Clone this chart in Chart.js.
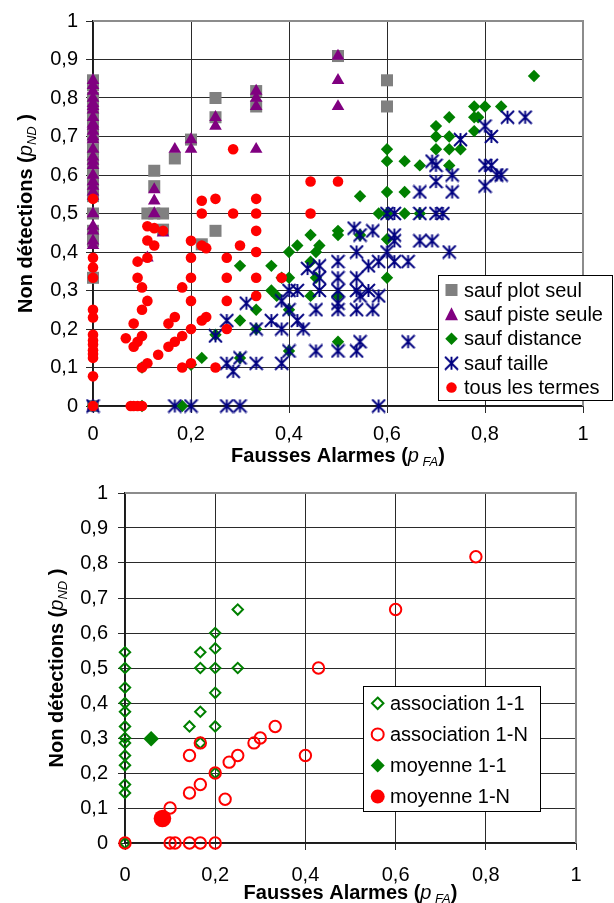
<!DOCTYPE html>
<html><head><meta charset="utf-8">
<script src="https://cdn.jsdelivr.net/npm/chart.js@4/dist/chart.umd.min.js"></script>
<style>
html,body{margin:0;padding:0;background:#fff;width:614px;height:903px;overflow:hidden}
#w1{position:absolute;left:0;top:0;width:614px;height:468px}
#w2{position:absolute;left:0;top:468px;width:614px;height:435px}
</style></head><body>
<div id="w1"><canvas id="c1"></canvas></div>
<div id="w2"><canvas id="c2"></canvas></div>
<script>
// ---------- tick labels ----------
const xTickLabels = ['0','0,2','0,4','0,6','0,8','1'];
const yTickLabels = ['0','0,1','0,2','0,3','0,4','0,5','0,6','0,7','0,8','0,9','1'];

// ---------- titles / legend labels ----------
const xTitleMain = 'Fausses Alarmes (', xTitleP = 'p', xTitleSub = ' FA', xTitleEnd = ')';
const yTitleMain = 'Non détections (', yTitleP = 'p', yTitleSub = 'ND', yTitleEnd = ' )';
const topLabels = ['sauf plot seul','sauf piste seule','sauf distance','sauf taille','tous les termes'];
const bottomLabels = ['association 1-1','association 1-N','moyenne 1-1','moyenne 1-N'];

// ---------- top chart series ----------
const saufPlotSeul = [[0,0],[0,0.333],[0,0.429],[0,0.455],[0,0.5],[0,0.545],[0,0.571],[0,0.6],[0,0.615],[0,0.636],[0,0.667],[0,0.7],[0,0.727],[0,0.75],[0,0.769],[0,0.8],[0,0.833],[0,0.846],
 [0.111,0.5],[0.143,0.5],[0.125,0.5],[0.125,0.571],[0.125,0.611],[0.143,0.458],[0.167,0.643],[0.2,0.692],[0.222,0.42],[0.25,0.455],[0.25,0.75],[0.25,0.8],[0.333,0.778],[0.333,0.818],[0.5,0.909],[0.6,0.846],[0.6,0.778]];
const saufPisteSeule = [[0,0],[0,0.417],[0,0.429],[0,0.455],[0,0.467],[0,0.5],[0,0.545],[0,0.556],[0,0.571],[0,0.583],[0,0.6],[0,0.625],[0,0.636],[0,0.647],[0,0.667],[0,0.692],[0,0.7],[0,0.714],[0,0.727],[0,0.733],[0,0.75],[0,0.769],[0,0.778],[0,0.786],[0,0.8],[0,0.818],[0,0.833],[0,0.846],
 [0.111,0.385],[0.125,0.5],[0.125,0.533],[0.125,0.562],[0.143,0.45],[0.167,0.667],[0.2,0.667],[0.2,0.692],[0.25,0.727],[0.25,0.75],[0.333,0.667],[0.333,0.778],[0.333,0.8],[0.333,0.818],[0.5,0.778],[0.5,0.846],[0.5,0.909]];
const saufDistance = [[0,0],[0.1,0],[0.182,0],[0.1,0.1],[0.2,0.107],[0.222,0.125],[0.3,0.125],[0.25,0.185],[0.3,0.222],[0.333,0.2],[0.333,0.25],[0.3,0.364],[0.364,0.364],[0.364,0.3],[0.375,0.286],[0.385,0.333],[0.4,0.333],[0.4,0.25],[0.4,0.143],[0.4,0.4],[0.417,0.417],[0.444,0.444],[0.444,0.375],[0.444,0.286],[0.455,0.4],[0.462,0.417],[0.455,0.333],[0.5,0.455],[0.5,0.444],[0.5,0.286],[0.5,0.167],[0.545,0.545],[0.545,0.444],[0.583,0.5],[0.6,0.5],[0.6,0.556],[0.6,0.433],[0.6,0.333],[0.6,0.667],[0.6,0.636],[0.636,0.636],[0.636,0.556],[0.636,0.5],[0.667,0.625],[0.667,0.5],[0.7,0.727],[0.7,0.7],[0.727,0.7],[0.7,0.667],[0.727,0.667],[0.75,0.667],[0.727,0.625],[0.727,0.75],[0.778,0.75],[0.786,0.75],[0.778,0.714],[0.778,0.778],[0.8,0.778],[0.833,0.778],[0.9,0.857]];
const saufTaille = [[0,0],[0.167,0],[0.2,0],[0.273,0],[0.3,0],[0.583,0],
 [0.273,0.111],[0.286,0.09],[0.3,0.125],[0.333,0.111],[0.385,0.111],[0.4,0.143],[0.455,0.143],[0.5,0.143],[0.538,0.143],[0.545,0.167],[0.643,0.167],
 [0.25,0.182],[0.273,0.222],[0.313,0.267],[0.333,0.2],[0.364,0.222],[0.385,0.2],[0.385,0.273],[0.4,0.25],[0.4,0.3],[0.417,0.222],[0.429,0.2],[0.417,0.3],[0.455,0.25],[0.462,0.3],[0.5,0.25],[0.5,0.267],[0.5,0.3],[0.538,0.25],[0.571,0.25],[0.538,0.3],[0.545,0.286],[0.562,0.3],[0.583,0.286],[0.5,0.333],[0.462,0.333],[0.538,0.333],[0.438,0.357],[0.462,0.364],[0.5,0.375],[0.538,0.4],[0.562,0.364],[0.583,0.375],[0.615,0.375],[0.643,0.375],[0.6,0.4],[0.533,0.462],[0.545,0.444],[0.571,0.455],[0.615,0.444],[0.615,0.429],[0.667,0.429],[0.692,0.429],[0.727,0.4],[0.6,0.5],[0.615,0.5],[0.667,0.5],[0.7,0.5],[0.714,0.5],[0.667,0.556],[0.733,0.556],[0.7,0.583],[0.733,0.6],[0.692,0.636],[0.7,0.625],[0.8,0.571],[0.8,0.625],[0.813,0.625],[0.824,0.6],[0.833,0.6],[0.75,0.692],[0.8,0.727],[0.813,0.7],[0.846,0.75],[0.882,0.75]];
const tousLesTermes = [[0,0.538],[0,0.385],[0,0.36],[0,0.333],[0,0.25],[0,0.23],[0,0.185],[0,0.17],[0,0.16],[0,0.145],[0,0.135],[0,0.125],[0,0.077],[0,0],
 [0.077,0],[0.083,0],[0.091,0],[0.1,0],
 [0.111,0.467],[0.125,0.462],[0.143,0.455],[0.111,0.43],[0.125,0.417],[0.111,0.385],[0.091,0.375],[0.091,0.333],[0.1,0.308],[0.111,0.273],[0.1,0.25],[0.083,0.214],[0.1,0.182],[0.091,0.167],[0.083,0.154],[0.067,0.176],[0.111,0.111],[0.1,0.1],
 [0.133,0.133],[0.154,0.154],[0.167,0.167],[0.182,0.182],[0.154,0.214],[0.167,0.231],[0.182,0.308],[0.182,0.1],
 [0.2,0.429],[0.2,0.385],[0.2,0.333],[0.2,0.273],[0.2,0.2],[0.2,0.111],
 [0.222,0.533],[0.25,0.538],[0.222,0.5],[0.222,0.417],[0.231,0.41],[0.222,0.222],[0.231,0.231],[0.25,0.1],
 [0.286,0.667],[0.286,0.5],[0.273,0.385],[0.273,0.333],[0.273,0.273],[0.273,0.2],[0.3,0.417],
 [0.333,0.538],[0.333,0.5],[0.333,0.455],[0.333,0.4],[0.333,0.333],[0.333,0.286],[0.385,0.333],
 [0.444,0.583],[0.5,0.583],[0.444,0.5]];

// ---------- bottom chart series ----------
const association11 = [[0,0],[0,0.143],[0,0.167],[0,0.222],[0,0.25],[0,0.286],[0,0.3],[0,0.333],[0,0.375],[0,0.4],[0,0.444],[0,0.5],[0,0.545],[0.143,0.333],[0.167,0.375],[0.167,0.286],[0.167,0.5],[0.167,0.545],[0.2,0.2],[0.2,0.333],[0.2,0.429],[0.2,0.5],[0.2,0.556],[0.2,0.6],[0.25,0.5],[0.25,0.667]];
const association1N = [[0,0],[0.1,0],[0.111,0],[0.143,0],[0.167,0],[0.2,0],[0.1,0.1],[0.143,0.143],[0.143,0.25],[0.167,0.167],[0.167,0.286],[0.2,0.2],[0.222,0.125],[0.231,0.231],[0.25,0.25],[0.286,0.286],[0.3,0.3],[0.333,0.333],[0.4,0.25],[0.429,0.5],[0.6,0.667],[0.778,0.818]];
const moyenne11 = [[0.058,0.298]];
const moyenne1N = [[0.083,0.07]];

// ---------- styling ----------
const FAM = '"Liberation Sans", Arial, Helvetica, sans-serif';
const GRAY='#808080', PURPLE='#800080', GREEN='#008000', NAVY='#000080', RED='#FF0000';
const pts = a => a.map(p => ({x:p[0], y:p[1]}));

function makeStar(size, color, lw){
  const c = document.createElement('canvas'); c.width = size; c.height = size;
  const g = c.getContext('2d'); g.strokeStyle = color; g.lineWidth = lw;
  const m = size/2, a = size/2 - 1;
  g.beginPath();
  g.moveTo(m, m-a); g.lineTo(m, m+a);
  g.moveTo(m-a, m-a); g.lineTo(m+a, m+a);
  g.moveTo(m+a, m-a); g.lineTo(m-a, m+a);
  g.stroke();
  return c;
}
const starImg = makeStar(15, NAVY, 1.9);

function segWidth(ctx, segs){ let w=0; for(const s of segs){ ctx.font=s.f; w+=ctx.measureText(s.t).width; } return w; }
function drawSegs(ctx, segs, x, y){ for(const s of segs){ ctx.font=s.f; ctx.fillText(s.t, x, y+(s.dy||0)); x+=ctx.measureText(s.t).width; } }
const B = 'bold 20px '+FAM, I = 'italic 20px '+FAM, S = 'italic 13px '+FAM;
const xSegs = [{t:xTitleMain,f:B},{t:xTitleP,f:I},{t:xTitleSub,f:S,dy:4},{t:xTitleEnd,f:B}];
const ySegs = [{t:yTitleMain,f:B},{t:yTitleP,f:I},{t:yTitleSub,f:S,dy:4},{t:yTitleEnd,f:B}];

function drawMarker(ctx, kind, x, y, color, s){
  ctx.save();
  ctx.fillStyle = color; ctx.strokeStyle = color; ctx.lineWidth = 2;
  ctx.beginPath();
  if(kind==='rect'){ ctx.fillRect(x-s/2, y-s/2, s, s); }
  else if(kind==='tri'){ ctx.moveTo(x, y-s*0.55); ctx.lineTo(x+s/2, y+s*0.45); ctx.lineTo(x-s/2, y+s*0.45); ctx.closePath(); ctx.fill(); }
  else if(kind==='dia' || kind==='diaO'){ ctx.moveTo(x, y-s/2); ctx.lineTo(x+s/2, y); ctx.lineTo(x, y+s/2); ctx.lineTo(x-s/2, y); ctx.closePath(); kind==='dia'?ctx.fill():ctx.stroke(); }
  else if(kind==='circ' || kind==='circO'){ ctx.arc(x, y, s/2, 0, Math.PI*2); kind==='circ'?ctx.fill():ctx.stroke(); }
  else if(kind==='star'){ ctx.drawImage(starImg, x-7.5, y-7.5); }
  ctx.restore();
}

function makeDecor(cfg){
  return {
    id:'decor',
    beforeDatasetsDraw(chart){
      const {ctx, chartArea:a} = chart;
      ctx.save();
      ctx.strokeStyle = '#8c8c8c'; ctx.lineWidth = 2;
      ctx.beginPath();
      ctx.moveTo(a.left, a.top); ctx.lineTo(a.right, a.top); ctx.lineTo(a.right, a.bottom);
      ctx.stroke();
      ctx.restore();
    },
    afterDraw(chart){
      const {ctx, chartArea:a} = chart;
      ctx.save();
      ctx.fillStyle = '#000'; ctx.textBaseline = 'alphabetic'; ctx.textAlign = 'left';
      // x title
      const wx = segWidth(ctx, xSegs);
      drawSegs(ctx, xSegs, (a.left+a.right)/2 - wx/2, cfg.xTitleY);
      // y title
      ctx.save();
      ctx.translate(cfg.yTitleX, (a.top+a.bottom)/2);
      ctx.rotate(-Math.PI/2);
      const wy = segWidth(ctx, ySegs);
      drawSegs(ctx, ySegs, -wy/2, 0);
      ctx.restore();
      // legend
      const L = cfg.legend;
      ctx.fillStyle = '#fff'; ctx.fillRect(L.x, L.y, L.w, L.h);
      ctx.strokeStyle = '#000'; ctx.lineWidth = 1; ctx.strokeRect(L.x, L.y, L.w, L.h);
      ctx.font = L.font; ctx.textBaseline = 'middle'; ctx.fillStyle = '#000';
      L.items.forEach((it, i) => {
        const yy = L.y0 + i*L.dy;
        drawMarker(ctx, it.kind, L.mx, yy, it.color, it.s);
        ctx.fillStyle = '#000';
        ctx.font = L.font;
        ctx.fillText(it.label, L.tx, yy+1);
      });
      ctx.restore();
    }
  };
}

function scales(yWidth, xHeight, yPad, xPad){
  const tickFont = {family: FAM, size: 20};
  return {
    x: {type:'linear', min:0, max:1,
      afterFit: s => { s.height = xHeight; },
      ticks:{stepSize:0.2, color:'#000', font:tickFont, padding:xPad, maxRotation:0,
        callback:(v)=> xTickLabels[Math.round(v*5)]},
      grid:{color:'#2a2a2a', lineWidth:1, tickLength:7, drawTicks:true},
      border:{display:true, color:'#1a1a1a', width:1.5}
    },
    y: {type:'linear', min:0, max:1,
      afterFit: s => { s.width = yWidth; },
      ticks:{stepSize:0.1, color:'#000', font:tickFont, padding:yPad,
        callback:(v)=> yTickLabels[Math.round(v*10)]},
      grid:{color:'#2a2a2a', lineWidth:1, tickLength:7, drawTicks:true},
      border:{display:true, color:'#1a1a1a', width:1.5}
    }
  };
}

const common = {responsive:true, maintainAspectRatio:false, animation:false, devicePixelRatio:1, events:[]};

// ---------- top chart ----------
new Chart(document.getElementById('c1'), {
  type:'scatter',
  data:{datasets:[
    {label:topLabels[0], data:pts(saufPlotSeul), pointStyle:'rect', pointRadius:8.5, backgroundColor:GRAY, borderWidth:0, order:5, clip:false},
    {label:topLabels[1], data:pts(saufPisteSeule), pointStyle:'triangle', pointRadius:7.3, backgroundColor:PURPLE, borderWidth:0, order:4, clip:false},
    {label:topLabels[2], data:pts(saufDistance), pointStyle:'rectRot', pointRadius:6.2, backgroundColor:GREEN, borderWidth:0, order:3, clip:false},
    {label:topLabels[3], data:pts(saufTaille), pointStyle:starImg, pointRadius:7, backgroundColor:NAVY, borderWidth:0, order:2, clip:false},
    {label:topLabels[4], data:pts(tousLesTermes), pointStyle:'circle', pointRadius:5.3, backgroundColor:RED, borderWidth:0, order:1, clip:false}
  ]},
  options:Object.assign({}, common, {
    layout:{padding:{left:0, right:31, top:21, bottom:0}},
    plugins:{legend:{display:false}, tooltip:{enabled:false}},
    scales: scales(93, 62, 8, 9)
  }),
  plugins:[makeDecor({xTitleY:462, yTitleX:32, legend:{
    x:438.5, y:275.5, w:174, h:125, y0:290, dy:24.4, mx:451.5, tx:464, font:'20px '+FAM,
    items:[{kind:'rect',color:GRAY,s:12,label:topLabels[0]},{kind:'tri',color:PURPLE,s:13,label:topLabels[1]},{kind:'dia',color:GREEN,s:12.5,label:topLabels[2]},{kind:'star',color:NAVY,s:13,label:topLabels[3]},{kind:'circ',color:RED,s:10.5,label:topLabels[4]}]
  }})]
});

// ---------- bottom chart ----------
new Chart(document.getElementById('c2'), {
  type:'scatter',
  data:{datasets:[
    {label:bottomLabels[0], data:pts(association11), pointStyle:'rectRot', pointRadius:5.2, backgroundColor:'rgba(0,0,0,0)', borderColor:GREEN, borderWidth:2, order:4, clip:false},
    {label:bottomLabels[1], data:pts(association1N), pointStyle:'circle', pointRadius:5.7, backgroundColor:'rgba(0,0,0,0)', borderColor:RED, borderWidth:2, order:3, clip:false},
    {label:bottomLabels[2], data:pts(moyenne11), pointStyle:'rectRot', pointRadius:7.8, backgroundColor:GREEN, borderWidth:0, order:2, clip:false},
    {label:bottomLabels[3], data:pts(moyenne1N), pointStyle:'circle', pointRadius:8.8, backgroundColor:RED, borderWidth:0, order:1, clip:false}
  ]},
  options:Object.assign({}, common, {
    layout:{padding:{left:0, right:38, top:25, bottom:0}},
    plugins:{legend:{display:false}, tooltip:{enabled:false}},
    scales: scales(125, 60, 10, 13)
  }),
  plugins:[makeDecor({xTitleY:431, yTitleX:63, legend:{
    x:363.5, y:218.5, w:177, h:125, y0:235.3, dy:31.1, mx:377.7, tx:390, font:'20px '+FAM,
    items:[{kind:'diaO',color:GREEN,s:11.5,label:bottomLabels[0]},{kind:'circO',color:RED,s:12,label:bottomLabels[1]},{kind:'dia',color:GREEN,s:14,label:bottomLabels[2]},{kind:'circ',color:RED,s:14,label:bottomLabels[3]}]
  }})]
});
</script></body></html>
